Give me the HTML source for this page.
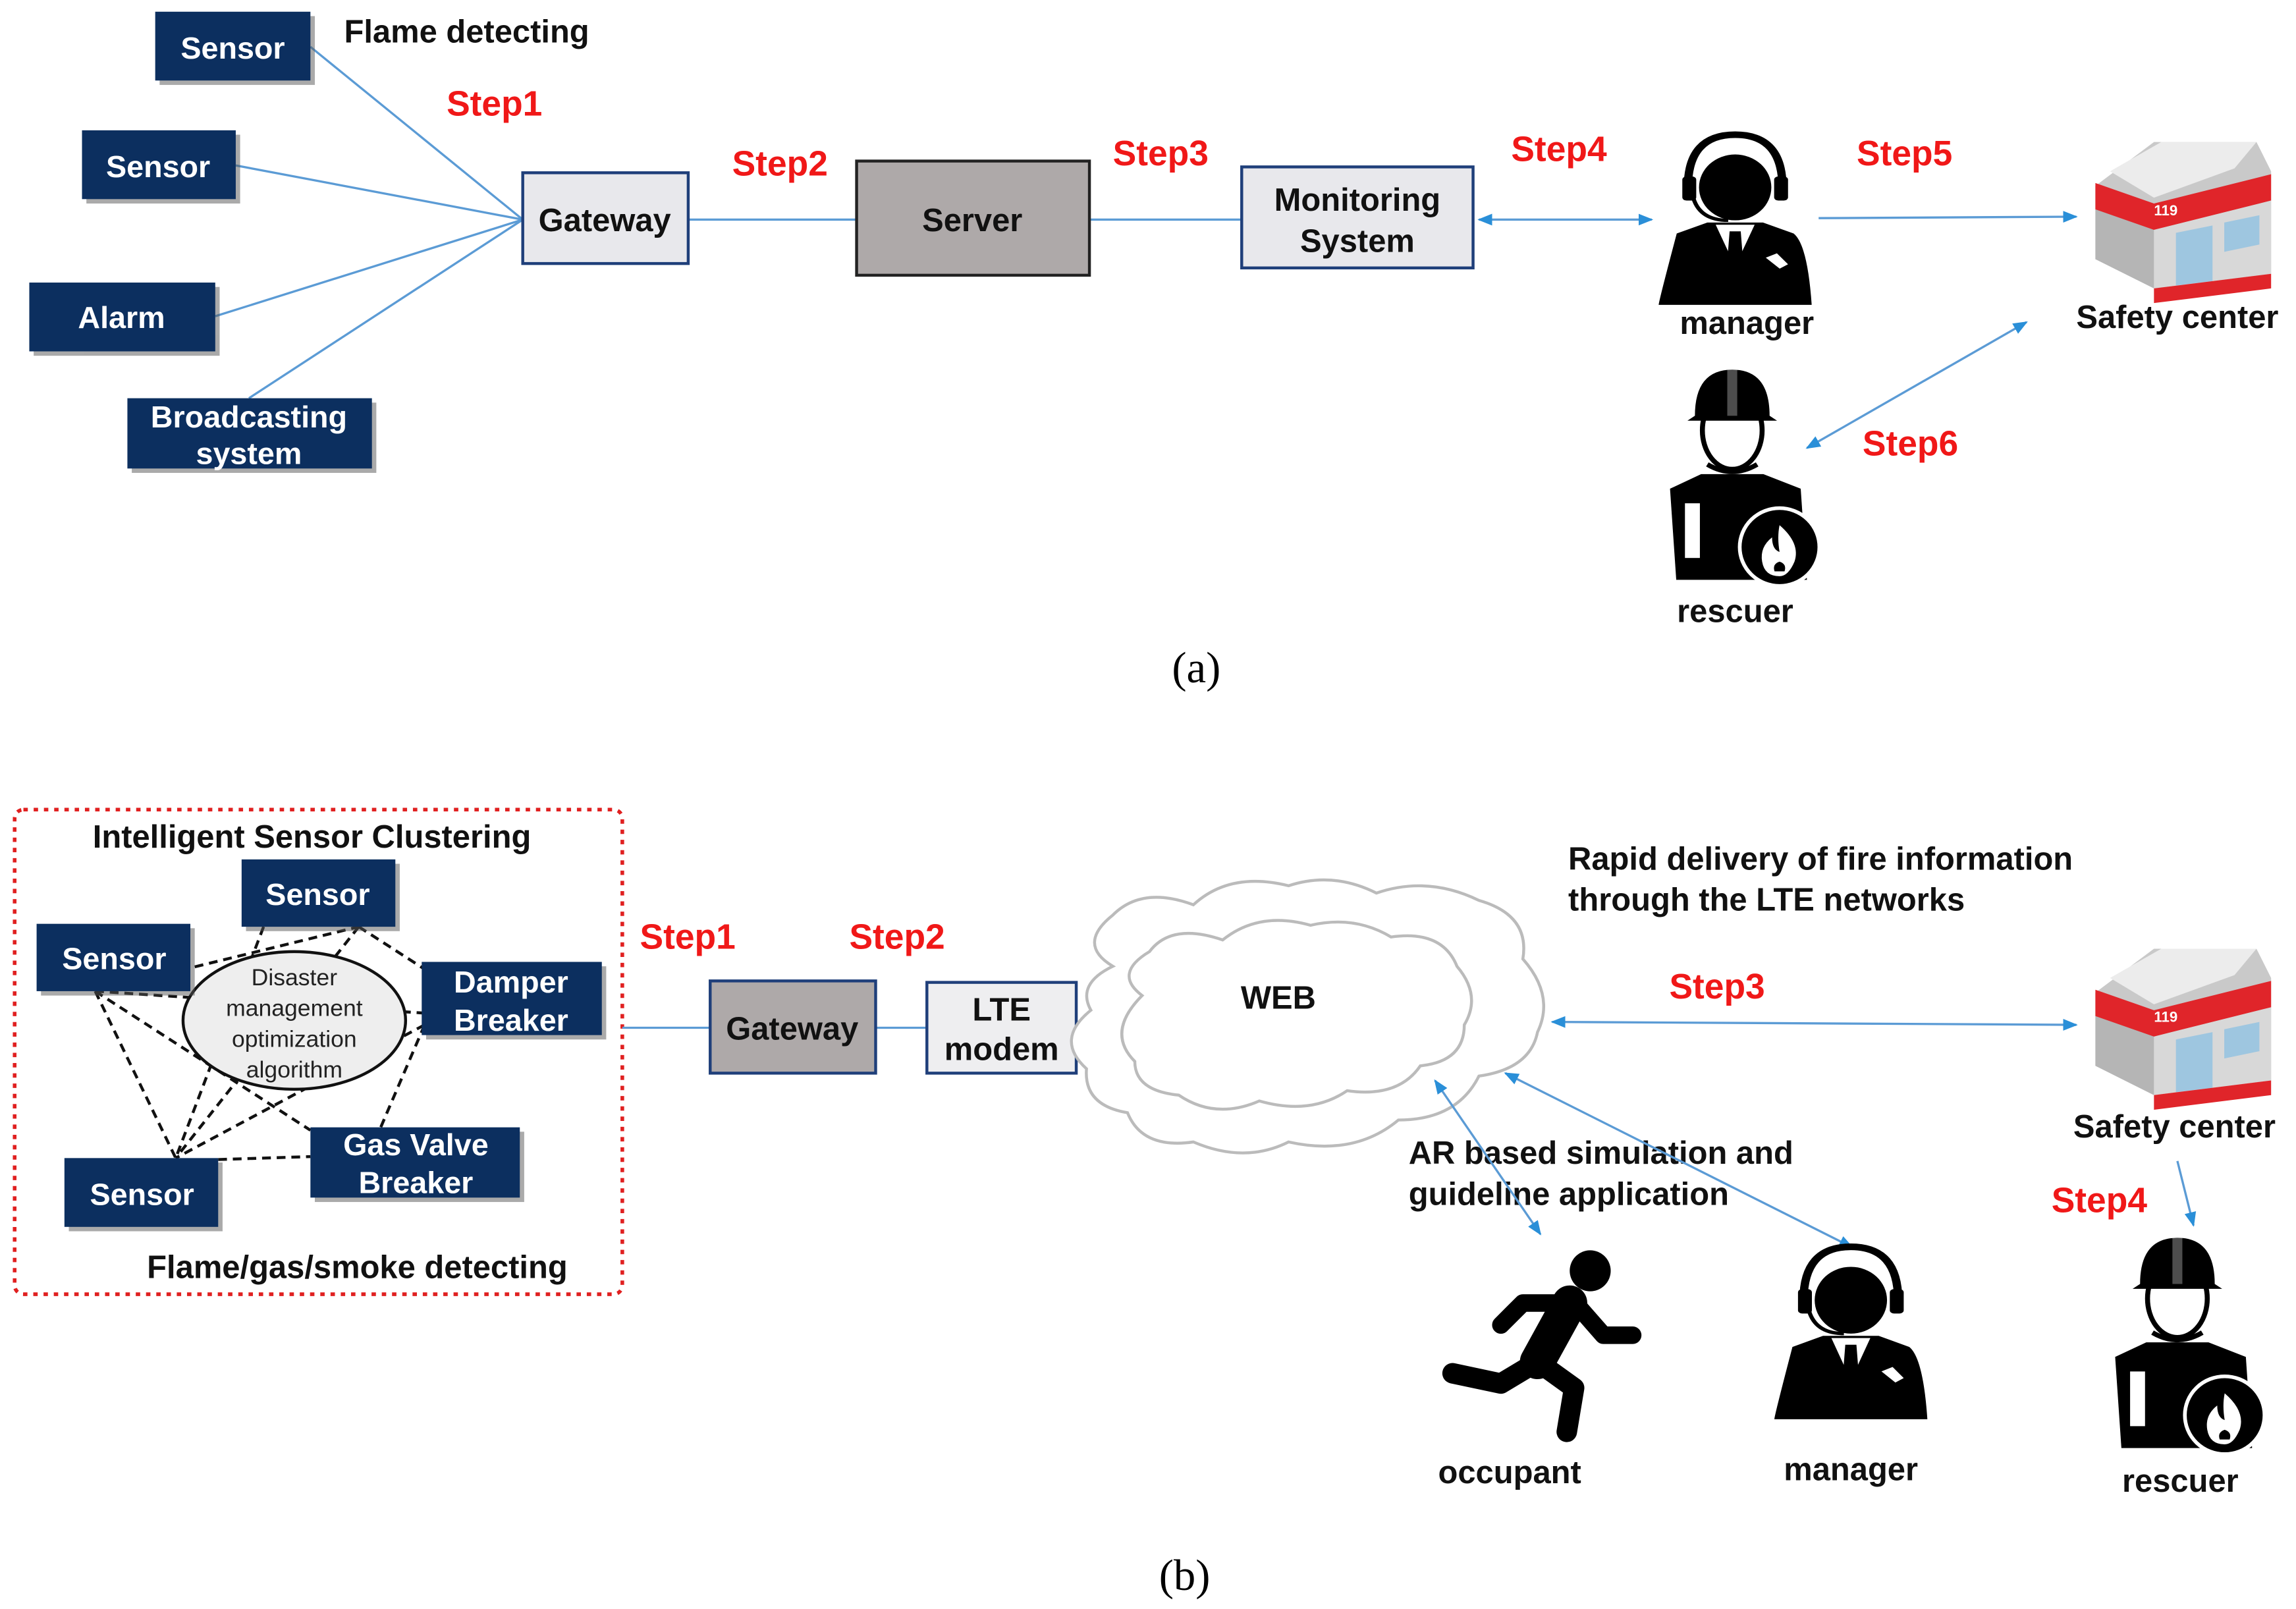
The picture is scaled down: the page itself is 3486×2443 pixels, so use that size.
<!DOCTYPE html>
<html><head><meta charset="utf-8"><style>
html,body{margin:0;padding:0;background:#fff;}
svg{display:block;}
text{font-family:"Liberation Sans",sans-serif;}
.b{font-weight:bold;font-size:22px;fill:#111;}
.w{font-weight:bold;font-size:21px;fill:#fff;}
.r{font-weight:bold;font-size:24px;fill:#f01818;}
.nb{fill:#0c2f5f;}
.ln{stroke:#5b9bd5;stroke-width:1.5;fill:none;}
.dl{stroke:#111;stroke-width:2;stroke-dasharray:6,4;fill:none;}
</style></head><body>
<svg width="3486" height="2443" viewBox="0 0 1568 1099" preserveAspectRatio="none" xmlns="http://www.w3.org/2000/svg">
<defs>
<marker id="ar" markerWidth="10" markerHeight="10" refX="9" refY="5" orient="auto" markerUnits="userSpaceOnUse"><path d="M0,1 L10,5 L0,9z" fill="#2a8fd8"/></marker>
<marker id="al" markerWidth="10" markerHeight="10" refX="1" refY="5" orient="auto" markerUnits="userSpaceOnUse"><path d="M10,1 L0,5 L10,9z" fill="#2a8fd8"/></marker>
<g id="mgr">
<path d="M-42,50 Q-55,112 -55,115 L55,115 Q52,60 42,50 L20,40 L-20,40z" fill="#000"/>
<path d="M-14,42 L0,80 L14,42z" fill="#fff"/>
<path d="M-4,48 L4,48 L6,80 L0,88 L-6,80z" fill="#000"/>
<ellipse cx="0" cy="8" rx="26" ry="30" fill="#000"/>
<path d="M-34,8 Q-34,-40 0,-40 Q34,-40 34,8" stroke="#000" stroke-width="6" fill="none"/>
<rect x="-38" y="-2" width="10" height="22" rx="3" fill="#000"/>
<rect x="28" y="-2" width="10" height="22" rx="3" fill="#000"/>
<path d="M-30,18 Q-25,38 -5,38" stroke="#000" stroke-width="3" fill="none"/>
<path d="M22,72 l10,10 l6,-4 l-8,-10z" fill="#fff"/>
</g>
<g id="res">
<path d="M-50,60 L-45,135 L60,135 L55,60 L25,48 L-25,48z" fill="#000"/>
<rect x="-38" y="72" width="12" height="45" fill="#fff"/>
<ellipse cx="0" cy="12" rx="24" ry="32" fill="#fff" stroke="#000" stroke-width="4"/>
<path d="M-30,0 Q-30,-38 0,-38 Q30,-38 30,0 L36,4 L-36,4z" fill="#000"/>
<rect x="-4" y="-38" width="8" height="38" fill="#fff" opacity="0.3"/>
<path d="M-20,40 Q0,52 20,40" stroke="#000" stroke-width="4" fill="none"/>
<circle cx="38" cy="108" r="32" fill="#000" stroke="#fff" stroke-width="3"/>
<path d="M38,90 Q55,105 50,120 Q45,132 38,132 Q26,132 24,120 Q22,108 32,100 Q32,110 38,112 Q36,100 38,90z" fill="#fff"/>
<path d="M38,120 Q44,122 42,128 L34,128 Q32,122 38,120z" fill="#000"/>
</g>
<g id="bld">
<path d="M0,30 L40,0 L110,0 L120,20 L120,90 L40,100 L0,80z" fill="#c9c9c9"/>
<path d="M0,30 L40,45 L40,100 L0,80z" fill="#b5b5b5"/>
<path d="M0,28 L40,42 L120,22 L120,40 L40,60 L0,46z" fill="#e0252a"/>
<path d="M40,60 L120,40 L120,90 L40,100z" fill="#d8d8d8"/>
<path d="M55,62 L80,57 L80,95 L55,98z" fill="#9ec6e0"/>
<path d="M88,55 L112,50 L112,70 L88,75z" fill="#9ec6e0"/>
<path d="M40,100 L120,90 L120,100 L40,110z" fill="#e0252a"/>
<path d="M10,20 L45,0 L110,0 L95,18 L40,38z" fill="#ececec"/>
<text x="40" y="50" font-size="10" fill="#fff" font-weight="bold">119</text>
</g>
</defs>

<!-- (a) -->
<g class="ln">
<line x1="212" y1="32" x2="357" y2="150"/><line x1="161" y1="113" x2="357" y2="150"/>
<line x1="147" y1="216" x2="357" y2="150"/><line x1="170" y1="272" x2="357" y2="150"/>
<line x1="470" y1="150" x2="585" y2="150"/><line x1="744" y1="150" x2="848" y2="150"/>
</g>
<g fill="#555" opacity="0.5"><rect x="109" y="11" width="106" height="47"/><rect x="59" y="92" width="105" height="47"/><rect x="23" y="196" width="127" height="47"/><rect x="90" y="275" width="167" height="48"/></g>
<rect class="nb" x="106" y="8" width="106" height="47"/><text class="w" x="159" y="40" text-anchor="middle">Sensor</text>
<rect class="nb" x="56" y="89" width="105" height="47"/><text class="w" x="108" y="121" text-anchor="middle">Sensor</text>
<rect class="nb" x="20" y="193" width="127" height="47"/><text class="w" x="83" y="224" text-anchor="middle">Alarm</text>
<rect class="nb" x="87" y="272" width="167" height="48"/><text class="w" x="170" y="292" text-anchor="middle">Broadcasting</text><text class="w" x="170" y="317" text-anchor="middle">system</text>
<text class="b" x="235" y="29">Flame detecting</text>
<rect x="357" y="118" width="113" height="62" fill="#e8e8ec" stroke="#1f3f7a" stroke-width="2"/><text class="b" x="413" y="158" text-anchor="middle">Gateway</text>
<rect x="585" y="110" width="159" height="78" fill="#aea9a9" stroke="#222" stroke-width="2"/><text class="b" x="664" y="158" text-anchor="middle">Server</text>
<rect x="848" y="114" width="158" height="69" fill="#e8e8ec" stroke="#1f3f7a" stroke-width="2"/><text class="b" x="927" y="144" text-anchor="middle">Monitoring</text><text class="b" x="927" y="172" text-anchor="middle">System</text>
<text class="r" x="305" y="79">Step1</text><text class="r" x="500" y="120">Step2</text><text class="r" x="760" y="113">Step3</text>
<text class="r" x="1032" y="110">Step4</text><text class="r" x="1268" y="113">Step5</text><text class="r" x="1272" y="311">Step6</text>
<line class="ln" x1="1010" y1="150" x2="1128" y2="150" marker-start="url(#al)" marker-end="url(#ar)"/>
<line class="ln" x1="1242" y1="149" x2="1418" y2="148" marker-end="url(#ar)"/>
<line class="ln" x1="1384" y1="220" x2="1234" y2="306" marker-start="url(#al)" marker-end="url(#ar)"/>
<use href="#mgr" transform="translate(1185,122) scale(0.95,0.75)"/>
<text class="b" x="1193" y="228" text-anchor="middle">manager</text>
<use href="#bld" x="1431" y="97"/>
<text class="b" x="1487" y="224" text-anchor="middle">Safety center</text>
<use href="#res" transform="translate(1183,284) scale(0.85,0.83)"/>
<text class="b" x="1185" y="425" text-anchor="middle">rescuer</text>
<text x="817" y="466" font-size="30" text-anchor="middle" style="font-family:'Liberation Serif',serif">(a)</text>

<!-- (b) -->
<rect x="10" y="553" width="415" height="331" rx="6" fill="none" stroke="#e02020" stroke-width="2.5" stroke-dasharray="3,4"/>
<text class="b" x="213" y="579" text-anchor="middle">Intelligent Sensor Clustering</text>
<g class="dl">
<line x1="65" y1="677" x2="245" y2="633"/><line x1="65" y1="677" x2="290" y2="692"/>
<line x1="65" y1="677" x2="120" y2="791"/><line x1="65" y1="677" x2="212" y2="772"/>
<line x1="245" y1="633" x2="290" y2="662"/><line x1="245" y1="633" x2="120" y2="791"/>
<line x1="290" y1="700" x2="120" y2="791"/><line x1="290" y1="700" x2="260" y2="770"/>
<line x1="149" y1="792" x2="212" y2="790"/><line x1="180" y1="633" x2="120" y2="791"/>
</g>
<ellipse cx="201" cy="697" rx="76" ry="47" fill="#eee" stroke="#111" stroke-width="2"/>
<g font-size="16" fill="#222" text-anchor="middle"><text x="201" y="673">Disaster</text><text x="201" y="694">management</text><text x="201" y="715">optimization</text><text x="201" y="736">algorithm</text></g>
<g fill="#555" opacity="0.5"><rect x="168" y="590" width="105" height="46"/><rect x="28" y="634" width="105" height="46"/><rect x="291" y="660" width="123" height="50"/><rect x="215" y="773" width="143" height="48"/><rect x="47" y="794" width="105" height="47"/></g>
<rect class="nb" x="165" y="587" width="105" height="46"/><text class="w" x="217" y="618" text-anchor="middle">Sensor</text>
<rect class="nb" x="25" y="631" width="105" height="46"/><text class="w" x="78" y="662" text-anchor="middle">Sensor</text>
<rect class="nb" x="288" y="657" width="123" height="50"/><text class="w" x="349" y="678" text-anchor="middle">Damper</text><text class="w" x="349" y="704" text-anchor="middle">Breaker</text>
<rect class="nb" x="212" y="770" width="143" height="48"/><text class="w" x="284" y="789" text-anchor="middle">Gas Valve</text><text class="w" x="284" y="815" text-anchor="middle">Breaker</text>
<rect class="nb" x="44" y="791" width="105" height="47"/><text class="w" x="97" y="823" text-anchor="middle">Sensor</text>
<text class="b" x="244" y="873" text-anchor="middle">Flame/gas/smoke detecting</text>
<g class="ln"><line x1="425" y1="702" x2="485" y2="702"/><line x1="598" y1="702" x2="633" y2="702"/><line x1="735" y1="702" x2="745" y2="702"/></g>
<rect x="485" y="670" width="113" height="63" fill="#aea9a9" stroke="#1f3f7a" stroke-width="2"/><text class="b" x="541" y="710" text-anchor="middle">Gateway</text>
<rect x="633" y="671" width="102" height="62" fill="#eeeef0" stroke="#1f3f7a" stroke-width="2"/><text class="b" x="684" y="697" text-anchor="middle">LTE</text><text class="b" x="684" y="724" text-anchor="middle">modem</text>
<text class="r" x="437" y="648">Step1</text><text class="r" x="580" y="648">Step2</text>
<path d="M760,660 Q735,645 760,625 Q780,605 815,618 Q840,595 880,605 Q910,595 940,610 Q975,598 1010,615 Q1045,625 1040,655 Q1062,680 1050,705 Q1045,730 1010,735 Q995,765 955,765 Q925,790 880,780 Q850,795 815,780 Q780,785 770,760 Q740,755 742,730 Q720,710 745,690 Q735,672 760,660z" fill="#fff" stroke="#bbb" stroke-width="2"/>
<path d="M780,680 Q760,665 785,650 Q800,630 835,642 Q860,622 895,632 Q925,625 950,640 Q985,635 995,660 Q1012,680 1000,700 Q1000,725 970,728 Q955,750 920,745 Q895,762 860,752 Q830,765 805,748 Q775,745 775,725 Q755,705 780,680z" fill="#fff" stroke="#bbb" stroke-width="2"/>
<text class="b" x="873" y="689" text-anchor="middle">WEB</text>
<text class="b" x="1071" y="594">Rapid delivery of fire information</text>
<text class="b" x="1071" y="622">through the LTE networks</text>
<text class="r" x="1140" y="682">Step3</text>
<line class="ln" x1="1060" y1="698" x2="1418" y2="700" marker-start="url(#al)" marker-end="url(#ar)"/>
<use href="#bld" x="1431" y="648"/>
<text class="b" x="1485" y="777" text-anchor="middle">Safety center</text>
<text class="r" x="1401" y="828">Step4</text>
<line class="ln" x1="1487" y1="793" x2="1498" y2="837" marker-end="url(#ar)"/>
<use href="#res" transform="translate(1487,877) scale(0.85,0.83)"/>
<text class="b" x="1489" y="1019" text-anchor="middle">rescuer</text>
<text class="b" x="962" y="795">AR based simulation and</text>
<text class="b" x="962" y="823">guideline application</text>
<line class="ln" x1="980" y1="738" x2="1052" y2="843" marker-start="url(#al)" marker-end="url(#ar)"/>
<line class="ln" x1="1028" y1="733" x2="1265" y2="852" marker-start="url(#al)" marker-end="url(#ar)"/>
<g stroke="#000" stroke-linecap="round" stroke-linejoin="round" fill="none">
<circle cx="1086" cy="868" r="14" fill="#000" stroke="none"/>
<path d="M1072,890 L1050,930" stroke-width="24"/>
<path d="M1074,888 L1095,912 L1115,912" stroke-width="12"/>
<path d="M1068,890 L1040,890 L1025,905" stroke-width="12"/>
<path d="M1050,930 L1075,948 L1070,978" stroke-width="14"/>
<path d="M1050,930 L1025,945 L992,938" stroke-width="14"/>
</g>
<text class="b" x="1031" y="1013" text-anchor="middle">occupant</text>
<use href="#mgr" transform="translate(1264,882) scale(0.95,0.76)"/>
<text class="b" x="1264" y="1011" text-anchor="middle">manager</text>
<text x="809" y="1086" font-size="30" text-anchor="middle" style="font-family:'Liberation Serif',serif">(b)</text>
</svg>
</body></html>
